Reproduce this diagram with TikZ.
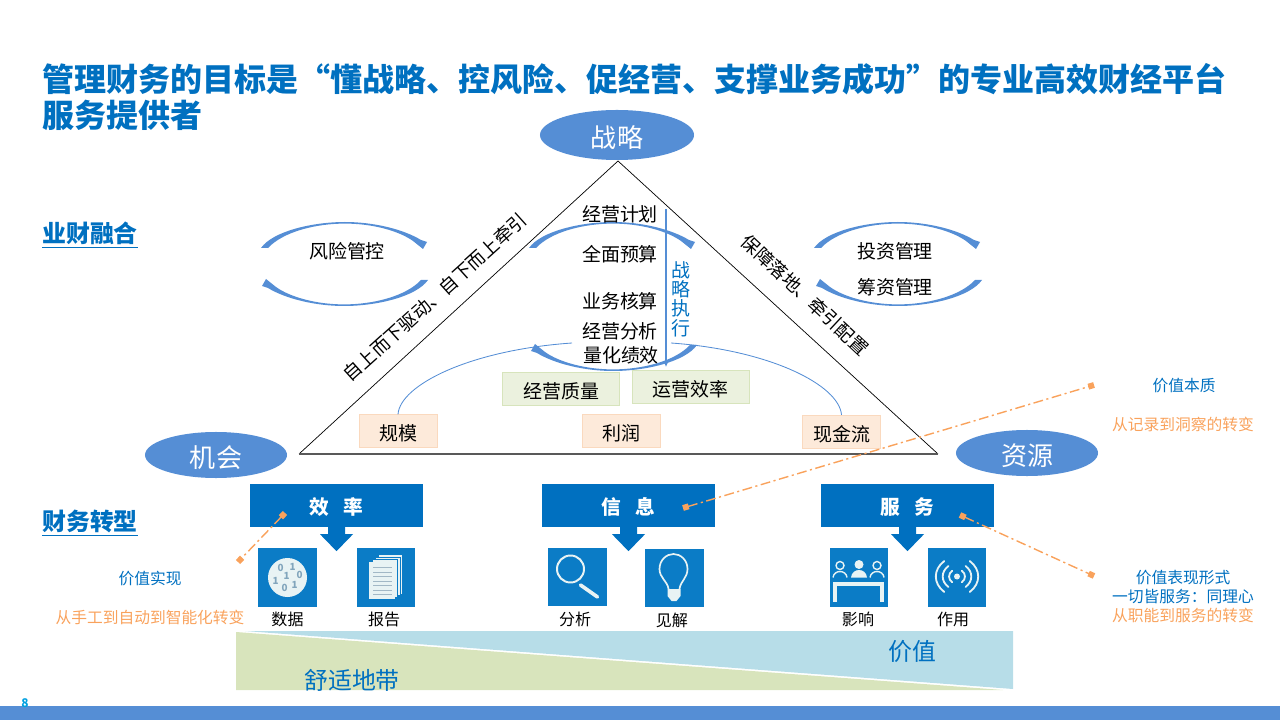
\documentclass[tikz,border=0pt]{standalone}
\usepackage{fontspec}
\usepackage{xcolor}
\setmainfont{Noto Sans CJK SC}
\usetikzlibrary{arrows.meta,calc,positioning,shapes.geometric}

\definecolor{titleblue}{HTML}{0070C0}
\definecolor{barblue}{HTML}{558ED5}
\definecolor{iconblue}{HTML}{0B7CC6}
\definecolor{iconlight}{HTML}{E8F3F4}
\definecolor{noteorange}{HTML}{F9A25C}
\definecolor{peach}{HTML}{FDEADA}
\definecolor{peachline}{HTML}{FAD9BE}
\definecolor{sage}{HTML}{EBF1DE}
\definecolor{sageline}{HTML}{D7E4BC}
\definecolor{valueblue}{HTML}{B7DDE8}
\definecolor{comfortgreen}{HTML}{D8E4BC}
\definecolor{pageblue}{HTML}{00A0E0}

\newcommand{\fsz}[1]{\fontsize{#1}{#1}\selectfont}
% one curved arrow of a cycle: centre x, outer y, rotation
\newcommand{\swoosh}[3]{%
  \begin{scope}[shift={(#1,#2)},rotate=#3]
    \fill[barblue] (-84,26) .. controls (-72,9) and (-32,0) .. (0,0)
      .. controls (28,0) and (58,7) .. (76,18) -- (82,20) -- (78,27) -- (68,19)
      .. controls (54,9) and (28,1.6) .. (0,1.6)
      .. controls (-30,1.6) and (-62,10) .. (-77,26) -- cycle;
  \end{scope}}

\begin{document}
\begin{tikzpicture}[
  x=0.025cm,y=-0.025cm,
  >=Latex,
  txt/.style={inner sep=0pt,font=\fsz{13.5}},
  lab/.style={inner sep=0pt,font=\fsz{11.4}},
  note/.style={inner sep=0pt,font=\fsz{11.2},text=titleblue},
  noteo/.style={note,text=noteorange},
  section/.style={inner sep=0pt,anchor=west,font=\fsz{17}\bfseries,text=titleblue},
  pole/.style={ellipse,fill=barblue,text=white,inner sep=0pt,text height=18.2pt,text depth=0pt,font=\fsz{18.5}},
  peachbox/.style={draw=peachline,fill=peach,minimum width=1.95cm,minimum height=0.82cm,inner sep=0pt,text height=13.8pt,text depth=0pt,font=\fsz{13.5}},
  sagebox/.style={draw=sageline,fill=sage,minimum width=2.92cm,minimum height=0.82cm,inner sep=0pt,text height=13.8pt,text depth=0pt,font=\fsz{13.5}},
  head/.style={fill=titleblue,text=white,minimum width=4.32cm,minimum height=1.07cm,inner sep=0pt,text height=13.4pt,text depth=0pt,font=\fsz{14}\bfseries},
  icon/.style={fill=iconblue,minimum size=1.46cm,inner sep=0pt},
  iconline/.style={draw=iconlight,line width=1.4pt,line cap=round},
  bit/.style={inner sep=0pt,text=iconblue!45!gray!70!white,font=\fsz{7}\bfseries},
  callout/.style={{Square[length=4.2pt,width=4.2pt]}-{Square[length=4.2pt,width=4.2pt]},noteorange,line width=1pt,dash pattern=on 7pt off 2.5pt on 1.5pt off 2.5pt},
  feeder/.style={barblue,line width=0.6pt}
]
\useasboundingbox (0,0) rectangle (1280,720);

% title and section heads
\node[inner sep=0pt,anchor=west,align=left,text=titleblue,font=\fontsize{22.76}{25.6}\selectfont\bfseries] (title) at (42,97)
  {管理财务的目标是“懂战略、控风险、促经营、支撑业务成功”的专业高效财经平台\\服务提供者};
\node[section] (fusion) at (42,235) {\underline{业财融合}};
\node[section] (transform) at (42,523) {\underline{财务转型}};

% triangle
\coordinate (apex) at (618,161);
\coordinate (tl) at (299,454);
\coordinate (tr) at (938,454);
\draw[line width=0.5pt] (tl) -- (apex) -- (tr);
\draw[black!65,line width=1.1pt] (tl) -- (tr);
\node[pole,minimum width=3.85cm,minimum height=1.25cm] (strategy) at (617,135) {战略};
\node[pole,minimum width=3.55cm,minimum height=1.15cm] (chance) at (216,455) {机会};
\node[pole,minimum width=3.55cm,minimum height=1.15cm] (resource) at (1027,453) {资源};

\swoosh{345}{222}{0}
\swoosh{344}{306}{180}
\swoosh{898}{222}{0}
\swoosh{898}{306}{180}
\swoosh{613}{222}{0}
\swoosh{613}{371}{180}

\node[txt] (risk) at (347,251) {风险管控};
\node[txt] (invest) at (895,251) {投资管理};
\node[txt] (raise) at (895,287) {筹资管理};
\node[txt] (plan) at (620,214) {经营计划};
\node[txt] (budget) at (620,254) {全面预算};
\node[txt] (account) at (620,301) {业务核算};
\node[txt] (analyse) at (620,331) {经营分析};
\node[txt] (kpi) at (621,355) {量化绩效};
\node[txt,rotate=42,font=\fsz{13.1}] (drive) at (435,297) {自上而下驱动、自下而上牵引};
\node[txt,rotate=-43,font=\fsz{13.1}] (ensure) at (805,295) {保障落地、牵引配置};

\coordinate (exectop) at (666,209);
\coordinate (execend) at (666,367);
\draw[->,barblue,line width=1.5pt,>={Latex[length=4pt,width=4pt]}] (exectop) -- (execend);
\node[inner sep=0pt,align=center,text=titleblue,font=\fontsize{13.5}{13.7}\selectfont] (exec) at (681,299) {战\\略\\执\\行};

\node[peachbox] (scale) at (398,431) {规模};
\node[peachbox] (profit) at (621,430.5) {利润};
\node[peachbox] (cash) at (841.5,431.5) {现金流};
\node[sagebox] (quality) at (560.5,388.5) {\hspace{2pt}经营质量};
\node[sagebox] (ops) at (690.5,387) {运营效率};
\coordinate (feedl) at (572,343);
\coordinate (feedr) at (671,343);
\draw[feeder] (scale.north) .. controls (400,385) and (470,350) .. (feedl);
\draw[feeder] (cash.north) .. controls (839,385) and (770,350) .. (feedr);

% three heads and their arrows
\node[head] (eff) at (336.5,505.5) {效\hspace{0.7em}率};
\node[head] (info) at (628.5,505.5) {信\hspace{0.7em}息};
\node[head] (serv) at (907.5,505.5) {服\hspace{0.7em}务};
\foreach \b in {eff,info,serv}
  \fill[titleblue] (\b.south) ++(-8.5,0) -- ++(0,7) -- ++(-8,0) -- ++(16.5,17) -- ++(16.5,-17) -- ++(-8,0) -- ++(0,-7) -- cycle;

% icons
\node[icon] (data) at (287.5,577.5) {};
\node[icon] (report) at (386,577.5) {};
\node[icon] (search) at (577.5,577) {};
\node[icon] (insight) at (674.5,578) {};
\node[icon] (impact) at (859,577.5) {};
\node[icon] (effect) at (957,577.5) {};

\begin{scope}[shift={(data.center)}]
  \fill[iconlight] (0,0) circle (19.5);
  \foreach \dx/\dy/\dig [count=\n] in {-7/-10/0,5/-11/1,-1/-2/1,12/-3/0,-12/3/1,-3/10/0,7/7/1}
    \node[bit] (bit\n) at (\dx,\dy) {\dig};
\end{scope}
\begin{scope}[shift={(report.center)}]
  \foreach \s in {3,2,1}
    \draw[iconblue,fill=iconlight,line width=0.4pt] (-17+3*\s,-16-2.3*\s) rectangle (9+2.4*\s,21-1.5*\s);
  \fill[iconlight] (-17,-16) rectangle (9,21);
  \foreach \ly in {-10,-5.5,...,17}
    \draw[iconblue!35!gray!55!white,line width=0.6pt] (-13,\ly) -- (6,\ly);
\end{scope}
\begin{scope}[shift={(search.center)}]
  \draw[iconline] (-7,-8) circle (13.5);
  \draw[iconline,line width=2.6pt] (3,8) -- (20,20);
\end{scope}
\begin{scope}[shift={(insight.center)}]
  \draw[iconline,line width=1.2pt] (-6,11) .. controls (-7,3) and (-15,0) .. (-15,-9)
    .. controls (-15,-18) and (-8,-24) .. (-1,-24) .. controls (6,-24) and (13,-18) .. (13,-9)
    .. controls (13,0) and (6,3) .. (5,11);
  \fill[iconlight] (-7,11) -- (6,11) -- (6,18) -- (2,23) -- (-3,23) -- (-7,18) -- cycle;
\end{scope}
\begin{scope}[shift={(impact.center)}]
  \fill[iconlight] (0,-13) circle (4.5);
  \fill[iconlight] (-8,0) .. controls (-7,-10) and (7,-10) .. (8,0) -- cycle;
  \foreach \sx in {-19,18} {
    \draw[iconlight,line width=1pt] (\sx,-12) circle (4);
    \draw[iconlight,line width=1pt] (\sx-7,0) .. controls (\sx-6,-8) and (\sx+6,-8) .. (\sx+7,0);
  }
  \draw[iconlight,line width=2.2pt] (-24,24) -- (-24,6.5) -- (23,6.5) -- (23,24);
\end{scope}
\begin{scope}[shift={(effect.center)}]
  \fill[iconlight] (0,-1) circle (3);
  \foreach \r in {7.5,13.5,20} {
    \draw[iconline,line width=1.3pt] ({0.64*\r},{-1+0.77*\r}) .. controls ({1.2*\r},{-1+0.35*\r}) and ({1.2*\r},{-1-0.35*\r}) .. ({0.64*\r},{-1-0.77*\r});
    \draw[iconline,line width=1.3pt] ({-0.64*\r},{-1+0.77*\r}) .. controls ({-1.2*\r},{-1+0.35*\r}) and ({-1.2*\r},{-1-0.35*\r}) .. ({-0.64*\r},{-1-0.77*\r});
  }
\end{scope}

\node[lab,below=3.6pt of data] (datalab) {数据};
\node[lab,below=3.6pt of report,xshift=-1.4pt] (reportlab) {报告};
\node[lab,below=3.6pt of search,xshift=-1.7pt] (searchlab) {分析};
\node[lab,below=3.6pt of insight,xshift=-1.8pt] (insightlab) {见解};
\node[lab,below=3.6pt of impact,xshift=-0.7pt] (impactlab) {影响};
\node[lab,below=3.6pt of effect,xshift=-2.8pt] (effectlab) {作用};

% value wedge
\fill[comfortgreen] (236,632) -- (236,690) -- (1003,690) -- cycle;
\fill[valueblue] (245,631) -- (1013,631) -- (1013,689) -- cycle;
\node[inner sep=0pt,text=titleblue,font=\fsz{17}] (comfort) at (352,680) {舒适地带};
\node[inner sep=0pt,text=titleblue,font=\fsz{17}] (value) at (912,651) {价值};

% callouts
\node[note] (essence) at (1184,386) {价值本质};
\node[noteo] (essence2) at (1183,424.5) {从记录到洞察的转变};
\node[note] (realize) at (150,579) {价值实现};
\node[noteo] (realize2) at (150,617.5) {从手工到自动到智能化转变};
\node[note] (form) at (1183,578) {价值表现形式};
\node[note] (form2) at (1183,597) {一切皆服务：同理心};
\node[noteo] (form3) at (1183,615) {从职能到服务的转变};
\coordinate (c1a) at (683,508);
\coordinate (c1b) at (1094,385);
\coordinate (c2a) at (285,513);
\coordinate (c2b) at (238,562);
\coordinate (c3a) at (960,515);
\coordinate (c3b) at (1094,576);
\draw[callout] (c1a) -- (c1b);
\draw[callout] (c2a) -- (c2b);
\draw[callout] (c3a) -- (c3b);

% footer
\fill[barblue] (0,706) rectangle (1280,720);
\node[inner sep=0pt,text=pageblue,font=\fsz{8.5}\bfseries] (page) at (25,703) {8};
\end{tikzpicture}
\end{document}
